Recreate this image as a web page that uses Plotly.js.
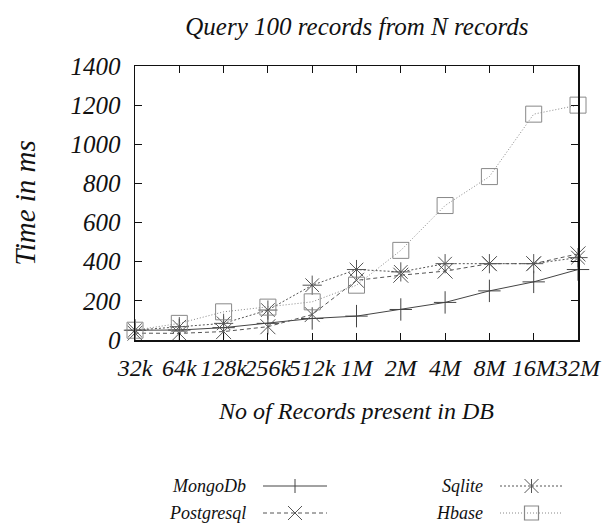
<!DOCTYPE html>
<html><head><meta charset="utf-8">
<script src="https://cdn.plot.ly/plotly-3.0.1.min.js"></script>
<style>body{margin:0;background:#fff}#c{width:605px;height:527px}</style>
</head><body><div id="c"></div>
<script>
const categories = ['32k','64k','128k','256k','512k','1M','2M','4M','8M','16M','32M'];
const mongo    = [50, 51, 63, 85, 110, 122, 156, 192, 251, 297, 360];
const postgres = [35, 34, 43, 68, 130, 305, 331, 352, 390, 390, 440];
const sqlite   = [50, 68, 85, 153, 280, 360, 348, 390, 390, 390, 421];
const hbase    = [50, 85, 144, 168, 195, 280, 458, 687, 835, 1154, 1200];
const seriesNames = ['MongoDb','Postgresql','Sqlite','Hbase'];
const yTicks = [0,200,400,600,800,1000,1200,1400];

const idx = categories.map((_, i) => i);
const F = 'Liberation Serif';
const styles = [
  {dash:'solid', color:'#444', sym:'cross-thin', size:16, w:1},
  {dash:'4px,3px', color:'#555', sym:'x-thin', size:15, w:1},
  {dash:'2px,2px', color:'#555', sym:'asterisk', size:16, w:1},
  {dash:'1px,2px', color:'#888', sym:'square-open', size:16, w:1}
];
const data = [mongo, postgres, sqlite, hbase].map((ys, k) => ({
  x: idx, y: ys, type: 'scatter', mode: 'lines+markers', name: seriesNames[k],
  line: {color: styles[k].color, width: styles[k].w, dash: styles[k].dash},
  marker: {symbol: styles[k].sym, size: styles[k].size, color: styles[k].color,
           line: {color: styles[k].color, width: 1}},
  showlegend: false, cliponaxis: false
}));

// custom legend (text left of key, gnuplot style)
const W = 605, H = 527, ML = 135, MR = 27, MT = 66, MB = 187;
const PW = W - ML - MR, PH = H - MT - MB;
const px = x => (x - ML) / PW, py = y => (H - MB - y) / PH;
const shapes = [], annotations = [];
const legendPos = [[248,486,263,327],[248,513,263,327],[485,486,500,563],[485,513,500,563]];
legendPos.forEach((p, k) => {
  const [tx, y, x0, x1] = p;
  annotations.push({xref:'paper', yref:'paper', x:px(tx), y:py(y), xanchor:'right', yanchor:'middle',
    text: seriesNames[k], showarrow:false, font:{family:F, size:18, color:'#111', style:'italic'}});
  shapes.push({type:'line', xref:'paper', yref:'paper', x0:px(x0), x1:px(x1), y0:py(y), y1:py(y),
    line:{color:styles[k].color, width: styles[k].w, dash: styles[k].dash}});
  const cx = (x0 + x1) / 2, r = 7;
  const L = (a,b,c,d) => shapes.push({type:'line', xref:'paper', yref:'paper', x0:px(a), y0:py(b), x1:px(c), y1:py(d), line:{color:styles[k].color, width:1}});
  if (k === 0) { L(cx, y-r, cx, y+r); }
  if (k === 1) { L(cx-r, y-r, cx+r, y+r); L(cx-r, y+r, cx+r, y-r); }
  if (k === 2) { L(cx-r, y-r, cx+r, y+r); L(cx-r, y+r, cx+r, y-r); L(cx, y-r, cx, y+r); }
  if (k === 3) { shapes.push({type:'rect', xref:'paper', yref:'paper', x0:px(cx-r), x1:px(cx+r), y0:py(y-r), y1:py(y+r), line:{color:'#888', width:1.2}, fillcolor:'rgba(0,0,0,0)'}); }
});

const axisCommon = {showgrid:false, zeroline:false, showline:true, linecolor:'#111', linewidth:1.5,
  mirror:'allticks', ticks:'inside', ticklen:7, tickcolor:'#111', tickwidth:1.2};
const layout = {
  width: W, height: H, margin: {l:ML, r:MR, t:MT, b:MB},
  paper_bgcolor:'#fff', plot_bgcolor:'#fff',
  font: {family: F, color:'#111'},
  title: {text:'Query 100 records from N records', x: 0.59, xanchor:'center', y: 1 - 26/H, yanchor:'middle',
          font:{family:F, size:25, style:'italic', color:'#111'}},
  xaxis: Object.assign({}, axisCommon, {range:[0,10], tickvals: idx, ticktext: categories, tickangle: 0,
    tickfont:{family:F, size:24, style:'italic', color:'#111'}, ticklabelstandoff: 6,
    title:{text:'No of Records present in DB', standoff: 22, font:{family:F, size:24, style:'italic', color:'#111'}}}),
  yaxis: Object.assign({}, axisCommon, {range:[0,1400], tickvals: yTicks,
    tickfont:{family:F, size:25, style:'italic', color:'#111'}, ticklabelstandoff: 8,
    title:{text:'Time in ms', standoff: 26, font:{family:F, size:29, style:'italic', color:'#111'}}}),
  shapes: shapes, annotations: annotations
};
Plotly.newPlot('c', data, layout, {staticPlot:true, displayModeBar:false});
</script></body></html>
